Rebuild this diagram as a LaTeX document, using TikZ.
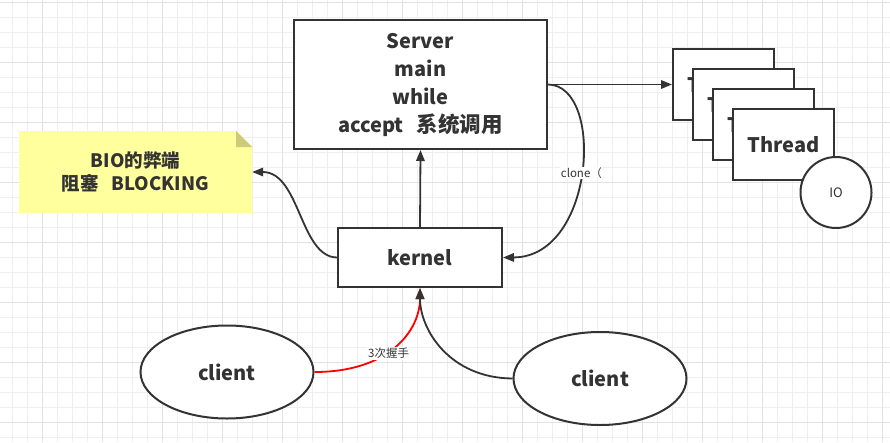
\documentclass[tikz,border=0pt]{standalone}
\usepackage{fontspec}
\setmainfont{Noto Sans CJK SC}
\usetikzlibrary{arrows.meta,shapes.geometric}
\definecolor{ink}{HTML}{333333}
\definecolor{gridlt}{HTML}{EFEFEF}
\definecolor{griddk}{HTML}{E2E2E2}
\definecolor{notefill}{HTML}{FFFF9E}
\definecolor{notefold}{HTML}{CCCC77}
\newcommand{\zh}[1]{{\fontsize{21.5}{28}\selectfont #1}}
\tikzset{
  boxst/.style={draw=ink, line width=2pt, fill=white, inner sep=0pt, text=ink, font=\bfseries\fontsize{20}{28}\selectfont, align=center},
  ellst/.style={ellipse, draw=ink, line width=2pt, fill=white, inner sep=0pt, text=ink, font=\bfseries\fontsize{20}{24}\selectfont, minimum width=173pt, minimum height=93pt},
  edge/.style={draw=ink, line width=1.8pt, -{Triangle[length=11pt,width=8.5pt]}},
  lbl/.style={fill=white, text=ink, inner sep=1pt, font=\fontsize{11.5}{13}\selectfont},
}
\begin{document}
\begin{tikzpicture}[x=1pt,y=-1pt]
\useasboundingbox (0,0) rectangle (890,442);
\fill[white] (0,0) rectangle (890,442);
% grid
\foreach \x in {12,27,...,890} \draw[gridlt, line width=1pt] (\x,0) -- (\x,442);
\foreach \y in {2,17,...,442} \draw[gridlt, line width=1pt] (0,\y) -- (890,\y);
\foreach \x in {42,102,...,890} \draw[griddk, line width=1pt] (\x,0) -- (\x,442);
\foreach \y in {2,62,...,442} \draw[griddk, line width=1pt] (0,\y) -- (890,\y);
% note
\fill[notefill] (19,131) -- (236,131) -- (252,147) -- (252,213) -- (19,213) -- cycle;
\fill[notefold] (236,131) -- (252,147) -- (236,147) -- cycle;
\node[inner sep=0pt, minimum width=233pt, minimum height=82pt, align=center, text=ink,
      font=\bfseries\fontsize{18.5}{23}\selectfont] (note) at (135.5,172) {BIO的弊端\\阻塞\hspace{13pt}BLOCKING};
% server
\node[boxst, minimum width=253pt, minimum height=129pt] (server) at (420.5,84.5)
  {Server\\main\\while\\accept\hspace{13pt}\zh{系统调用}};
% kernel
\node[boxst, minimum width=164pt, minimum height=59pt] (kernel) at (420,257.5) {kernel};
% threads
\node[boxst, minimum width=101pt, minimum height=71pt] (t1) at (723.5,84.5) {Thread};
\node[boxst, minimum width=101pt, minimum height=71pt] (t2) at (743.5,104.5) {Thread};
\node[boxst, minimum width=101pt, minimum height=71pt] (t3) at (763.5,124.5) {Thread};
\node[boxst, minimum width=101pt, minimum height=71pt] (t4) at (783.5,144.5) {Thread};
\node[circle, draw=ink, line width=2pt, fill=white, minimum size=71pt, inner sep=0pt, text=ink,
      font=\fontsize{13}{15}\selectfont] (io) at (836,192.5) {IO};
% clients
\node[ellst] (c1) at (227,372) {client};
\node[ellst] (c2) at (600,378.5) {client};
% edges
\draw[edge] (kernel.north) -- (server.south);
\draw[edge] (server.east) -- (t1.west);
\draw[edge] (server.east) .. controls (605,85) and (595,257) .. (kernel.east)
  node[lbl, pos=0.5, yshift=-2pt] {clone（};
\draw[edge] (kernel.west) .. controls (300,257) and (300,172) .. (note.east);
\draw[edge, draw=red] (c1.east) .. controls (390,372) and (420,330) .. (kernel.south)
  node[lbl, pos=0.5, xshift=-7pt, yshift=-7.5pt] {3次握手};
\draw[edge] (c2.west) .. controls (450,378) and (420,330) .. (kernel.south);
\end{tikzpicture}
\end{document}
